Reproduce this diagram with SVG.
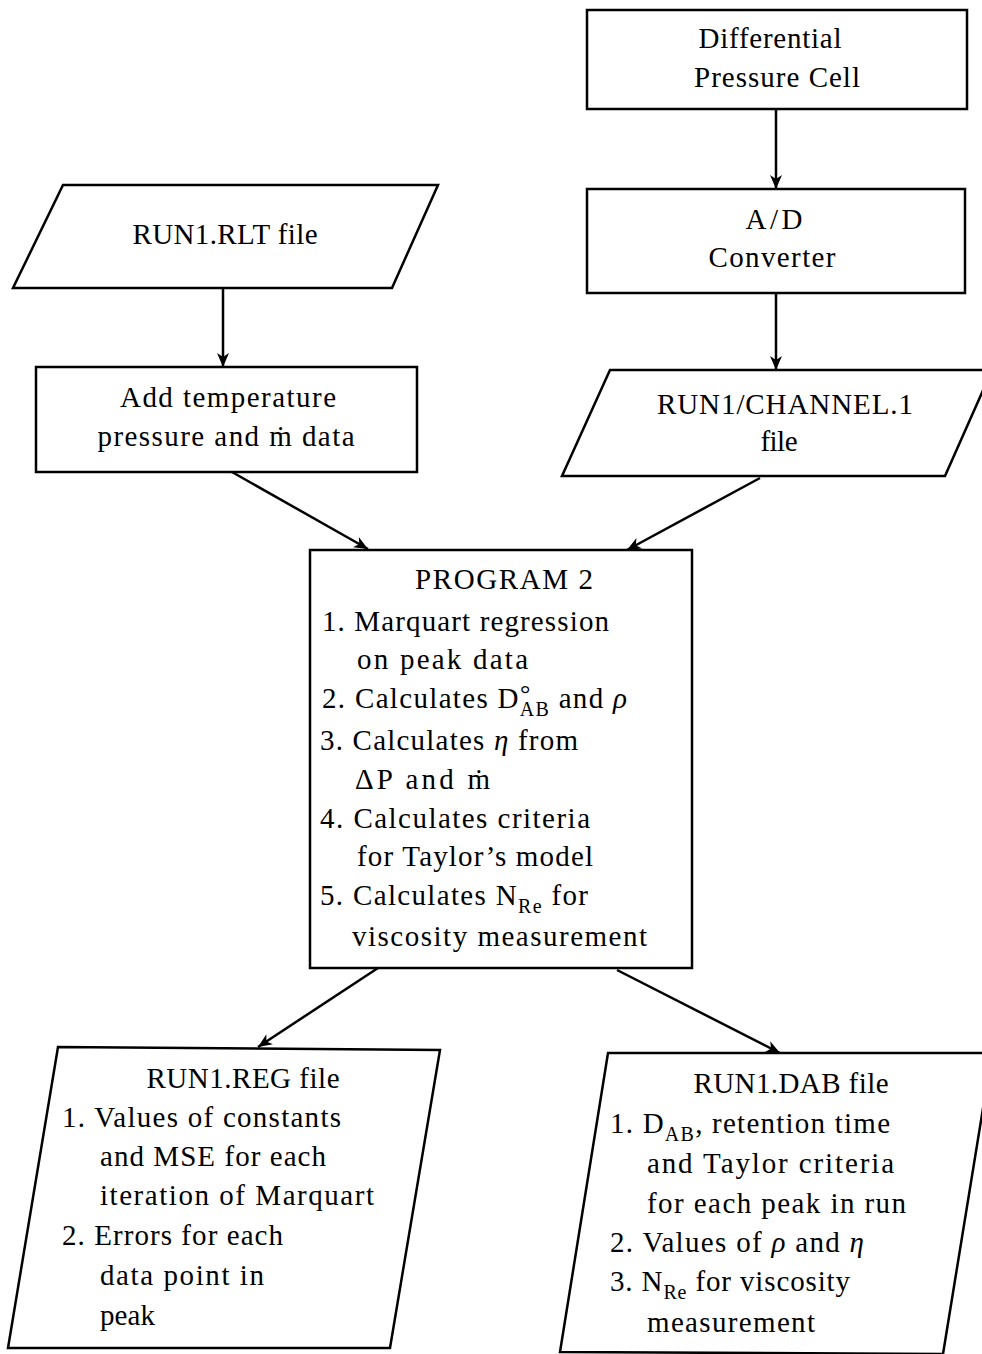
<svg xmlns="http://www.w3.org/2000/svg" width="982" height="1354" viewBox="0 0 982 1354">
<defs>
<marker id="ah" markerUnits="userSpaceOnUse" markerWidth="16" markerHeight="14" refX="14" refY="7" orient="auto">
<path d="M0,1 L14,7 L0,13 L4,7 z" fill="#000"/>
</marker>
</defs>
<style>
.b{fill:#fff;stroke:#000;stroke-width:2.5}
.t{font-family:"Liberation Serif",serif;font-size:29px;fill:#000}
.m{text-anchor:middle}
.s{font-size:20px}
.i{font-style:italic}
.c{stroke:#000;stroke-width:2.5;fill:none;marker-end:url(#ah)}
</style>
<rect width="982" height="1354" fill="#fff"/>
<g id="connectors">
<line class="c" x1="776" y1="110" x2="776" y2="189"/>
<line class="c" x1="776" y1="294" x2="776" y2="370"/>
<line class="c" x1="223" y1="289" x2="223" y2="367"/>
<line class="c" x1="232" y1="472" x2="368" y2="549"/>
<line class="c" x1="760" y1="478" x2="627" y2="550"/>
<line class="c" x1="378" y1="968" x2="258" y2="1047"/>
<line class="c" x1="617" y1="970" x2="780" y2="1053"/>
</g>
<g id="dpcell">
<rect class="b" x="587" y="10" width="380" height="99"/>
<text class="t m" x="770" y="48" textLength="143">Differential</text>
<text class="t m" x="777" y="87" textLength="166">Pressure Cell</text>
</g>
<g id="adconv">
<rect class="b" x="587" y="189" width="378" height="104"/>
<text class="t m" x="774" y="229" textLength="57">A/D</text>
<text class="t m" x="772" y="267" textLength="127">Converter</text>
</g>
<g id="rlt">
<polygon class="b" points="63,185 438,185 392,288 13,288"/>
<text class="t m" x="225" y="244" textLength="185">RUN1.RLT file</text>
</g>
<g id="addtemp">
<rect class="b" x="36" y="367" width="381" height="105"/>
<text class="t m" x="228" y="407" textLength="216">Add temperature</text>
<text class="t m" x="226" y="446" textLength="257">pressure and ṁ data</text>
</g>
<g id="channel">
<polygon class="b" points="610,370 992,370 945,476 562,476"/>
<text class="t m" x="785" y="414" textLength="256">RUN1/CHANNEL.1</text>
<text class="t m" x="779" y="451" textLength="37">file</text>
</g>
<g id="program2">
<rect class="b" x="310" y="550" width="382" height="418"/>
<text class="t m" x="504" y="589" textLength="178">PROGRAM 2</text>
<text class="t" x="322" y="631" textLength="287">1. Marquart regression</text>
<text class="t" x="357" y="669" textLength="171">on peak data</text>
<text class="t" x="322" y="708" textLength="305">2. Calculates D<tspan style="font-size:26px" dy="-6">°</tspan><tspan class="s" dx="-12" dy="14">AB</tspan><tspan dy="-8"> and </tspan><tspan class="i">ρ</tspan></text>
<text class="t" x="320" y="750" textLength="258">3. Calculates <tspan class="i">η</tspan> from</text>
<text class="t" x="355" y="789" textLength="135">ΔP and ṁ</text>
<text class="t" x="320" y="828" textLength="270">4. Calculates criteria</text>
<text class="t" x="357" y="866" textLength="236">for Taylor’s model</text>
<text class="t" x="320" y="905" textLength="268">5. Calculates N<tspan class="s" dy="8">Re</tspan><tspan dy="-8"> for</tspan></text>
<text class="t" x="352" y="946" textLength="295">viscosity measurement</text>
</g>
<g id="reg">
<polygon class="b" points="58,1047 440,1050 390,1348 8,1348"/>
<text class="t m" x="243" y="1088" textLength="193">RUN1.REG file</text>
<text class="t" x="62" y="1127" textLength="279">1. Values of constants</text>
<text class="t" x="100" y="1166" textLength="226">and MSE for each</text>
<text class="t" x="100" y="1205" textLength="274">iteration of Marquart</text>
<text class="t" x="62" y="1245" textLength="221">2. Errors for each</text>
<text class="t" x="100" y="1285" textLength="164">data point in</text>
<text class="t" x="100" y="1325" textLength="55">peak</text>
</g>
<g id="dab">
<polygon class="b" points="608,1053 992,1053 943,1354 560,1352"/>
<text class="t m" x="791" y="1093" textLength="195">RUN1.DAB file</text>
<text class="t" x="610" y="1133" textLength="280">1. D<tspan class="s" dy="8">AB</tspan><tspan dy="-8">, retention time</tspan></text>
<text class="t" x="647" y="1173" textLength="247">and Taylor criteria</text>
<text class="t" x="647" y="1213" textLength="259">for each peak in run</text>
<text class="t" x="610" y="1252" textLength="254">2. Values of <tspan class="i">ρ</tspan> and <tspan class="i">η</tspan></text>
<text class="t" x="610" y="1291" textLength="240">3. N<tspan class="s" dy="8">Re</tspan><tspan dy="-8"> for viscosity</tspan></text>
<text class="t" x="647" y="1332" textLength="168">measurement</text>
</g>
</svg>
